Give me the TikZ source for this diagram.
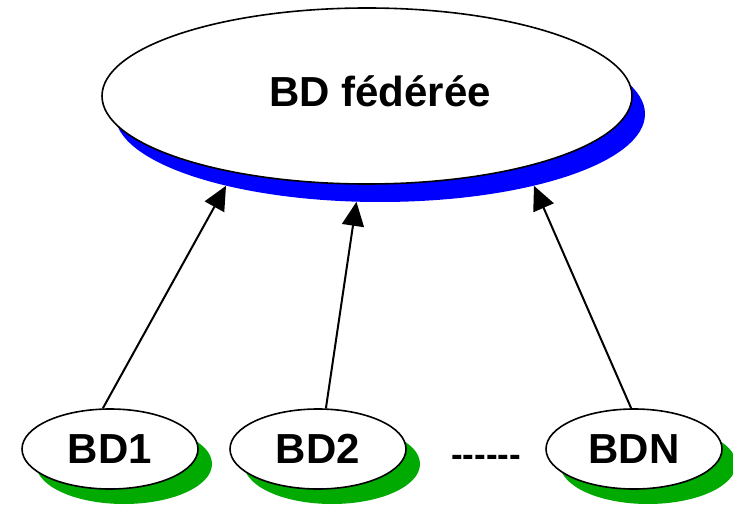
\documentclass[tikz,border=0pt]{standalone}
\usepackage{fontspec}
\setmainfont{Liberation Sans}
\usetikzlibrary{shapes.geometric}
\usetikzlibrary{arrows.meta}
\definecolor{shgreen}{RGB}{0,170,0}
\tikzset{bd/.style={draw,ellipse,fill=white,line width=1.6pt,inner sep=0pt,minimum width=176pt,minimum height=80pt,font=\fontsize{42}{42}\selectfont\bfseries}}
\tikzset{bdsh/.style={ellipse,fill=shgreen,inner sep=0pt,minimum width=176pt,minimum height=80pt}}
\tikzset{fedsty/.style={ellipse,inner sep=0pt,minimum width=530pt,minimum height=176pt}}
\tikzset{fl/.style={line width=2pt,-{Triangle[length=24pt,width=22pt]}}}

\begin{document}
\begin{tikzpicture}[x=1pt,y=1pt]
        \useasboundingbox (0,0) rectangle (733,504);
        % federated database
        \node [fedsty,fill=blue] (fedsh) at (380,390) {};
        \node [fedsty,draw,fill=white,line width=1.6pt,
          label={[font=\fontsize{42}{42}\selectfont\bfseries,xshift=13pt,yshift=5pt]center:BD fédérée}] (fed) at (367,408) {};
        % local databases
        \node [bdsh] (bd1sh) at (124,40) {};
        \node [bdsh] (bd2sh) at (332,40) {};
        \node [bdsh] (bdnsh) at (648,40) {};
        \node [bd] (bd1) at (110,55) {BD1};
        \node [bd] (bd2) at (318,55) {BD2};
        \node [bd] (bdn) at (634,55) {BDN};
        \node [anchor=base,font=\fontsize{35}{35}\selectfont\bfseries] (dots) at (486,38) {-{}-{}-{}-{}-{}-};
        % links
        \draw [fl] (bd1.100) -- (fedsh.205);
        \draw [fl] (bd2.79) -- (fedsh.255);
        \draw [fl] (bdn.94) -- (fedsh.335);
\end{tikzpicture}
\end{document}
